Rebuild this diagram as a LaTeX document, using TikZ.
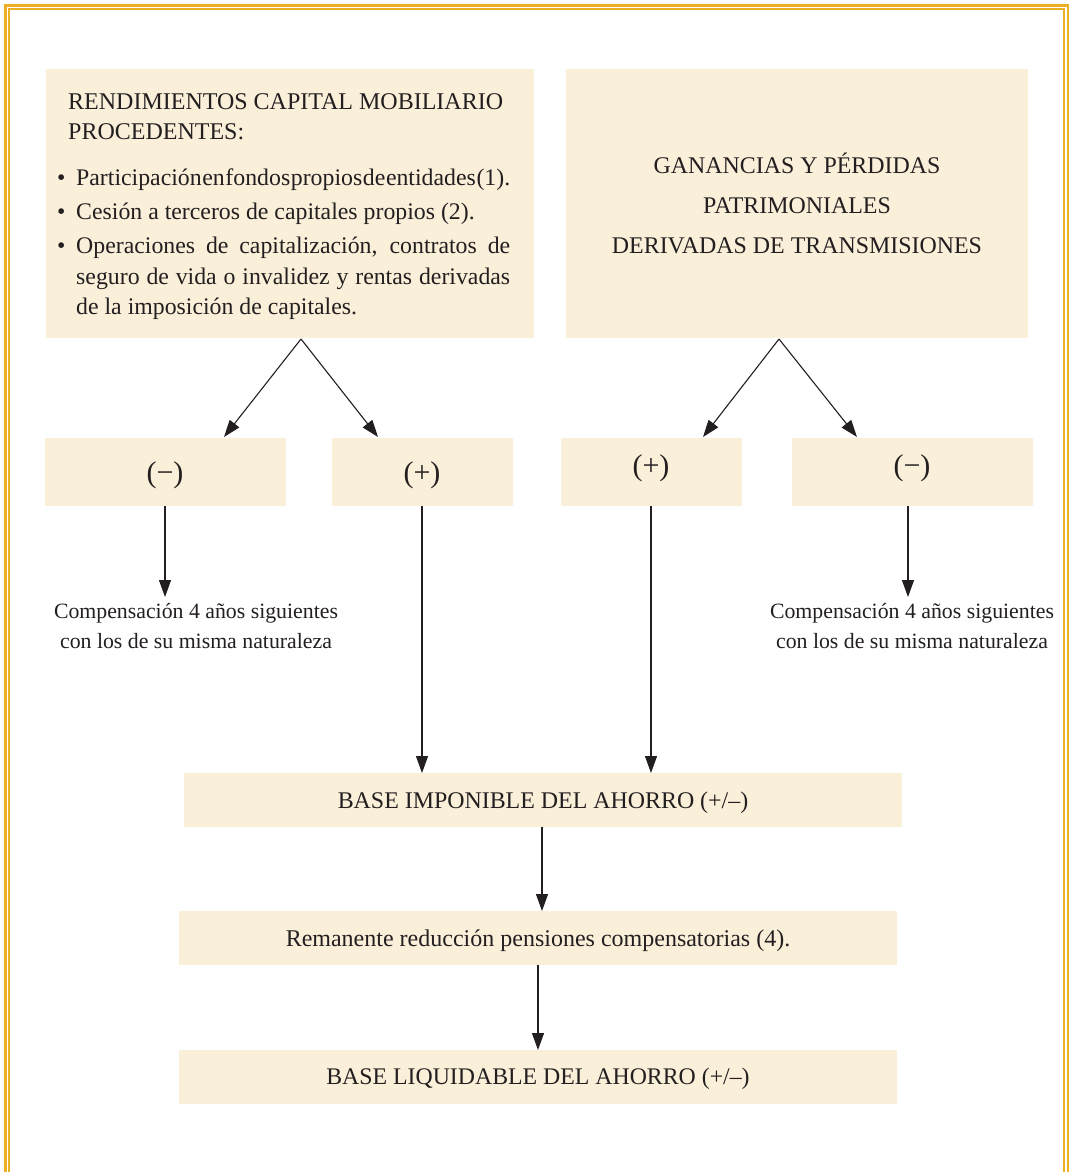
\documentclass[tikz,border=0pt]{standalone}
\usepackage{fontspec}
\setmainfont{Liberation Serif}
\usetikzlibrary{arrows.meta}
\definecolor{frame}{HTML}{EBB024}
\definecolor{cream}{HTML}{FAEFD9}
\definecolor{ink}{HTML}{231F20}
\tikzset{
  box/.style={fill=cream, draw=none, inner sep=0pt, anchor=north west},
  conn/.style={draw=ink, line width=1.1pt, -{Triangle[length=17pt,width=12pt]}},
  txt/.style={text=ink, inner sep=0pt},
  sign/.style={txt, font=\fontsize{30}{32}\selectfont},
}
\begin{document}
\begin{tikzpicture}[x=1pt,y=-1pt]
\useasboundingbox (0,0) rectangle (1069,1172);
\fill[white] (0,0) rectangle (1069,1172);
% frame
\draw[frame, line width=2.6pt] (5.4,1180) -- (5.4,5.4) -- (1067.8,5.4) -- (1067.8,1180);
\draw[frame, line width=1.6pt] (9.2,1180) -- (9.2,9.2) -- (1063.8,9.2) -- (1063.8,1180);
% boxes
\node[box, minimum width=488pt, minimum height=269pt] (A) at (46,69) {};
\node[box, minimum width=462pt, minimum height=269pt] (B) at (566,69) {};
\node[box, minimum width=241pt, minimum height=68pt] (m1) at (45,438) {};
\node[box, minimum width=181pt, minimum height=68pt] (p1) at (332,438) {};
\node[box, minimum width=181pt, minimum height=68pt] (p2) at (561,438) {};
\node[box, minimum width=241pt, minimum height=68pt] (m2) at (792,438) {};
\node[box, minimum width=718pt, minimum height=54pt] (bi) at (184,773) {};
\node[box, minimum width=718pt, minimum height=54pt] (rr) at (179,911) {};
\node[box, minimum width=718pt, minimum height=54pt] (bl) at (179,1050) {};
% texts
\node[txt, anchor=base west, align=left, font=\fontsize{24}{30}\selectfont] (Ah) at (68,139)
  {RENDIMIENTOS CAPITAL MOBILIARIO\\PROCEDENTES:};
\node[txt, anchor=north west, text width=453pt, align=justify, font=\fontsize{23.8}{30.5}\selectfont] (Al) at (57,169)
  {\hyphenpenalty=10000\exhyphenpenalty=10000\tolerance=9999\emergencystretch=20pt
   \hangindent=19pt\hangafter=1\noindent\makebox[19pt][l]{\textbullet}{\spaceskip=0.2pt plus 6pt minus 0.2pt\parfillskip=0pt Participación en fondos propios de entidades (1).\par}
   \vspace{3.5pt}
   \hangindent=19pt\hangafter=1\noindent\makebox[19pt][l]{\textbullet}Cesión a terceros de capitales propios (2).\par
   \vspace{3.5pt}
   \hangindent=19pt\hangafter=1\noindent\makebox[19pt][l]{\textbullet}Operaciones de capitalización, contratos de seguro de vida o invalidez y rentas derivadas de la imposición de capitales.\par};
\node[txt, align=center, font=\fontsize{23.9}{40}\selectfont] (Bt) at (797,203)
  {GANANCIAS Y PÉRDIDAS\\PATRIMONIALES\\DERIVADAS DE TRANSMISIONES};
\node[sign] at (165,475) {(−)};
\node[sign] at (422,475) {(+)};
\node[sign] at (651,468) {(+)};
\node[sign] at (912,468) {(−)};
\node[txt, align=center, font=\fontsize{21.8}{30}\selectfont] (c1) at (196,626)
  {Compensación 4 años siguientes\\con los de su misma naturaleza};
\node[txt, align=center, font=\fontsize{21.8}{30}\selectfont] (c2) at (912,626)
  {Compensación 4 años siguientes\\con los de su misma naturaleza};
\node[txt, font=\fontsize{23.9}{30}\selectfont] at (543,803) {BASE IMPONIBLE DEL AHORRO (+/–)};
\node[txt, font=\fontsize{24}{30}\selectfont] at (538,941) {Remanente reducción pensiones compensatorias (4).};
\node[txt, font=\fontsize{23.8}{30}\selectfont] at (538,1079) {BASE LIQUIDABLE DEL AHORRO (+/–)};
% connectors
\coordinate (a0) at (301,339);
\coordinate (b0) at (779,339);
\draw[conn] (a0) -- (224,437);
\draw[conn] (a0) -- (378,437);
\draw[conn] (b0) -- (703,437);
\draw[conn] (b0) -- (857,437);
\draw[conn] (m1.south -| 165,0) -- (165,597);
\draw[conn] (p1.south -| 422,0) -- (bi.north -| 422,0);
\draw[conn] (p2.south -| 651,0) -- (bi.north -| 651,0);
\draw[conn] (m2.south -| 908,0) -- (908,597);
\draw[conn] (bi.south -| 542,0) -- (rr.north -| 542,0);
\draw[conn] (rr.south -| 538,0) -- (bl.north -| 538,0);
\end{tikzpicture}
\end{document}
